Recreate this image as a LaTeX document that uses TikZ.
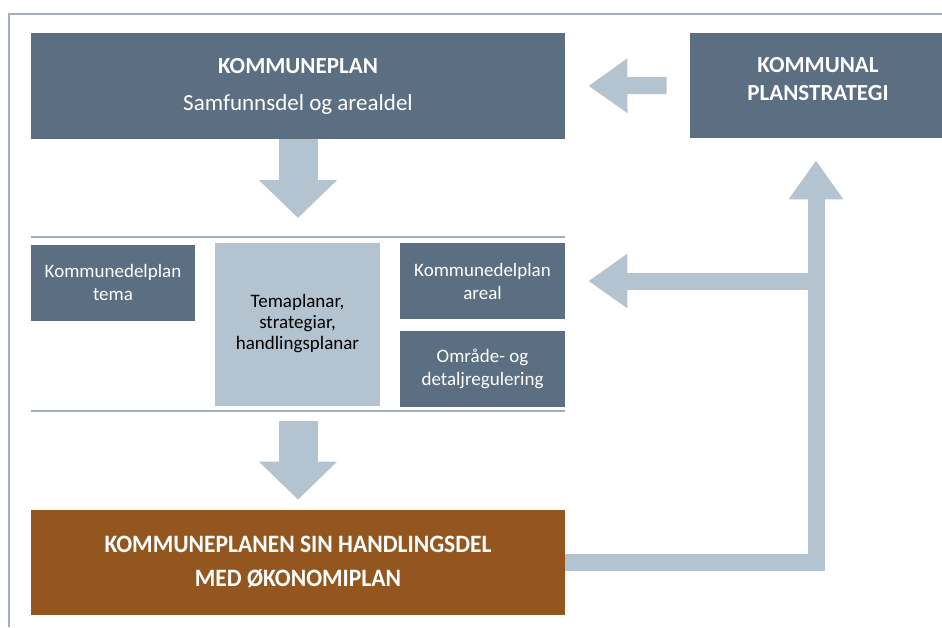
\documentclass[tikz,border=0pt]{standalone}
\usepackage{fontspec}
\setmainfont{Carlito}
\usetikzlibrary{arrows.meta,positioning}
\definecolor{slateblue}{HTML}{5B6E82}
\definecolor{mistblue}{HTML}{B3C3CF}
\definecolor{rustbrown}{HTML}{93561E}
\definecolor{rulegrey}{HTML}{A3AFBB}

\begin{document}
\begin{tikzpicture}[x=0.5pt,y=-0.5pt,
    darkbox/.style={fill=slateblue,text=white,align=center,inner sep=0pt,
        font=\fontsize{9.5}{11.5}\selectfont},
    lightbox/.style={fill=mistblue,text=black,align=center,inner sep=0pt,
        font=\fontsize{9.5}{10.5}\selectfont},
    bigdown/.style={mistblue,line width=19.5pt,-{Triangle[width=38pt,length=19pt]}},
    flatarrow/.style={mistblue,line width=8.5pt,line join=miter,-{Triangle[width=26pt,length=19.5pt]}},
    sepline/.style={rulegrey,line width=0.6pt}]

    \useasboundingbox (0,0) rectangle (942,627);
    % frame
    \coordinate (frametop) at (9,14);
    \draw[sepline] (942,14) -- (frametop) -- (9,627);

    % top row
    \node[darkbox,minimum width=267pt,minimum height=53pt,
        font=\fontsize{11.5}{18.5}\selectfont] (kplan) at (298,86)
        {\textbf{KOMMUNEPLAN}\\Samfunnsdel og arealdel};
    \node[darkbox,minimum width=126pt,minimum height=52.5pt] (kstrat) at (816,85.5) {};
    \node[text=white,align=center,font=\bfseries\fontsize{11.5}{14}\selectfont]
        (kstrattext) at (818,79) {KOMMUNAL\\PLANSTRATEGI};

    % middle band
    \coordinate (sepA) at (31,237);
    \coordinate (sepAend) at (565,237);
    \coordinate (sepB) at (31,411);
    \coordinate (sepBend) at (565,411);
    \draw[sepline] (sepA) -- (sepAend);
    \draw[sepline] (sepB) -- (sepBend);

    \node[darkbox,minimum width=82pt,minimum height=38pt] (ktema) at (113,282.5)
        {Kommunedelplan\\tema};
    \node[lightbox,minimum width=82.5pt,minimum height=81.5pt] (tema) at (297.5,324.5)
        {\raisebox{6pt}{\begin{tabular}{@{}c@{}}Temaplanar,\\strategiar,\\handlingsplanar\end{tabular}}};
    \node[darkbox,minimum width=82.5pt,minimum height=38pt] (kareal) at (482.5,281)
        {Kommunedelplan\\areal};
    \node[darkbox,minimum width=82.5pt,minimum height=38pt,below=5.5pt of kareal] (omrade)
        {Område- og\\detaljregulering};

    % bottom
    \node[fill=rustbrown,text=white,inner sep=0pt,
        minimum width=267pt,minimum height=52.5pt] (hdel) at (298,562.5)
        {\raisebox{-1.2pt}{\scalebox{0.94}[1]{\bfseries\fontsize{12.5}{17}\selectfont
        \begin{tabular}{@{}c@{}}KOMMUNEPLANEN SIN HANDLINGSDEL\\MED ØKONOMIPLAN\end{tabular}}}};

    % arrows
    \draw[bigdown,shorten >=9.5pt] (kplan.south) -- (kplan.south |- sepA);
    \draw[bigdown,shorten <=5pt,shorten >=5pt] (hdel.north |- sepB) -- (hdel.north);
    \draw[flatarrow,shorten <=11.5pt,shorten >=11.5pt] (kstrat.west) -- (kplan.east);
    \draw[flatarrow,shorten >=11pt] (hdel.east) -| (kstrat.south);
    \coordinate (fork) at (kstrat.south |- kareal.east);
    \draw[flatarrow,shorten >=11.5pt] (fork) -- (kareal.east);
\end{tikzpicture}
\end{document}
